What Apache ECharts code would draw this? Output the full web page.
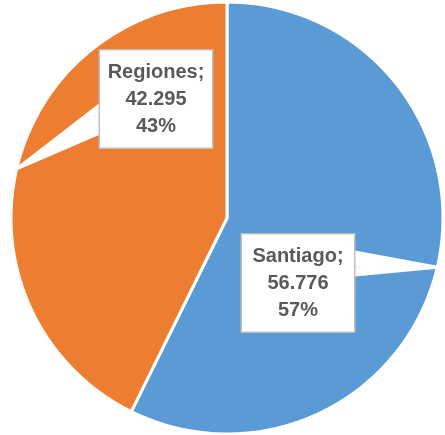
<!DOCTYPE html>
<html><head><meta charset="utf-8">
<script src="https://cdn.jsdelivr.net/npm/echarts@6/dist/echarts.min.js"></script>
<style>html,body{margin:0;padding:0;background:#fff}#c{width:445px;height:435px}</style>
</head><body><div id="c"></div>
<script>
const categories = ['Santiago', 'Regiones'];
const values = [56776, 42295];
const colors = ['#5B9BD5', '#ED7D31'];

const total = values.reduce((a, b) => a + b, 0);
function fmtNum(v) { return String(v).replace(/\B(?=(\d{3})+(?!\d))/g, '.'); }

// label box centres and pointer base offsets (layout only)
const labelCenters = [[298, 283], [156, 99]];
const pointerBase = [[-31, -8], [6, 34]];

const pieData = categories.map((n, i) => ({ name: n, value: values[i], itemStyle: { color: colors[i] } }));
const common = { type: 'pie', center: [227, 218], radius: 216, startAngle: 90, clockwise: true, avoidLabelOverlap: false };

const chart = echarts.init(document.getElementById('c'), null, { renderer: 'canvas' });
chart.setOption({
  animation: false,
  series: [
    Object.assign({}, common, {
      z: 2,
      itemStyle: { borderColor: '#fff', borderWidth: 3 },
      label: { show: false },
      labelLine: { show: false },
      data: pieData
    }),
    Object.assign({}, common, {
      z: 3,
      silent: true,
      itemStyle: { color: 'rgba(0,0,0,0)', borderWidth: 0 },
      data: categories.map((n, i) => ({ name: n, value: values[i] })),
      label: {
        show: true,
        position: 'outside',
        formatter: p => p.name + ';\n' + fmtNum(p.value) + '\n' + Math.round(p.value / total * 100) + '%',
        fontFamily: 'Liberation Sans',
        fontWeight: 'bold',
        fontSize: 20,
        lineHeight: 27,
        color: '#595959',
        textBorderWidth: 0,
        backgroundColor: '#fff',
        borderColor: '#bfbfbf',
        borderWidth: 1.5,
        padding: [8, 8],
        width: 96,
        overflow: 'none',
        align: 'center'
      },
      labelLine: { show: true, length: 10, length2: 10, lineStyle: { color: '#ffffff', width: 3, cap: 'butt' } },
      labelLayout: function (params) {
        const i = params.dataIndex;
        const c = labelCenters[i];
        const w = params.labelRect.width;
        const tip = params.labelLinePoints[0];
        const ex = tip[0] > c[0] ? c[0] + w / 2 - 1 : c[0] - w / 2 + 1;
        const y0 = c[1] + pointerBase[i][0], y1 = c[1] + pointerBase[i][1];
        const pts = [tip];
        const steps = 12;
        for (let k = 0; k <= steps; k++) {
          pts.push([ex, y0 + (y1 - y0) * k / steps]);
          pts.push(tip);
        }
        return { x: c[0], y: c[1], align: 'center', verticalAlign: 'middle', labelLinePoints: pts };
      }
    })
  ]
});
</script></body></html>
